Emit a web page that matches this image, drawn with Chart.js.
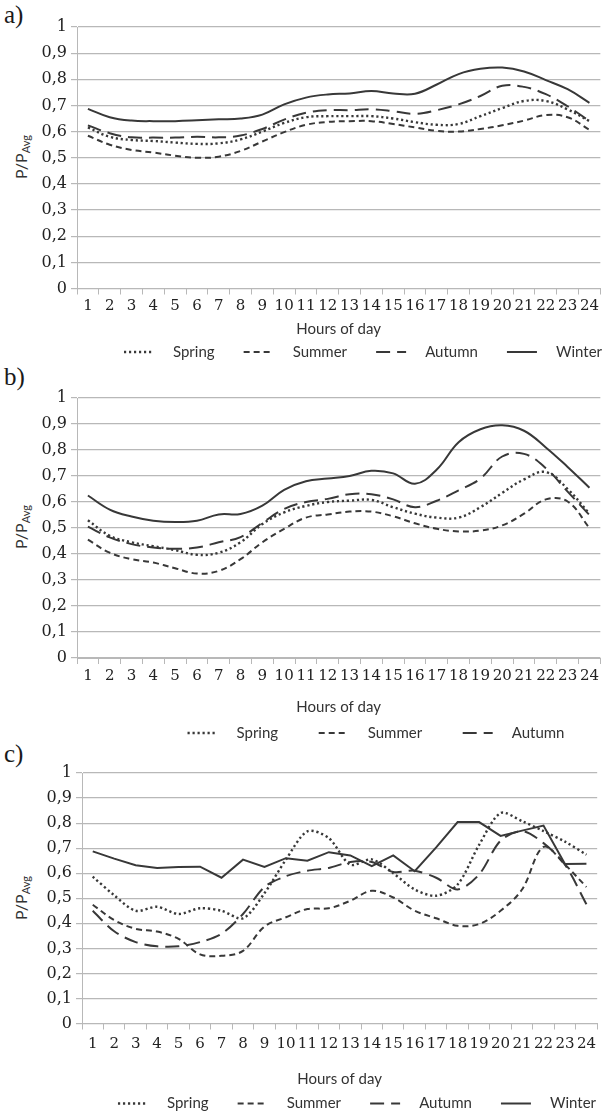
<!DOCTYPE html>
<html><head><meta charset="utf-8">
<script src="https://cdn.jsdelivr.net/npm/chart.js@4.4.0/dist/chart.umd.min.js"></script>
<style>
html,body{margin:0;padding:0;background:#fff;}
body{width:602px;height:1115px;position:relative;overflow:hidden;}
.panel{position:absolute;left:0;width:602px;}
.lbl{position:absolute;font-family:"Liberation Serif",serif;font-size:25px;color:#1a1a1a;line-height:1;}
.ytitle{position:absolute;width:100px;height:20px;line-height:20px;text-align:center;font-family:Lato,sans-serif;font-size:16px;color:#333;transform:rotate(-90deg);white-space:nowrap;}
.ytitle sub{font-size:11px;vertical-align:-3px;}
</style></head><body>
<div class="lbl" style="left:4px;top:2px">a)</div>
<div class="lbl" style="left:4px;top:364px">b)</div>
<div class="lbl" style="left:4px;top:741px">c)</div>
<div class="ytitle" style="left:-29px;top:147px">P/P<sub>Avg</sub></div>
<div class="ytitle" style="left:-29px;top:517px">P/P<sub>Avg</sub></div>
<div class="ytitle" style="left:-29px;top:888px">P/P<sub>Avg</sub></div>
<canvas id="ca" class="panel" style="top:0px" width="602" height="372"></canvas>
<canvas id="cb" class="panel" style="top:372px" width="602" height="380"></canvas>
<canvas id="cc" class="panel" style="top:752px" width="602" height="371"></canvas>
<script>
// ---- categories & tick labels ----
const hours = ['1','2','3','4','5','6','7','8','9','10','11','12','13','14','15','16','17','18','19','20','21','22','23','24'];
const yTickLabels = ['0','0,1','0,2','0,3','0,4','0,5','0,6','0,7','0,8','0,9','1'];
const seriesNames = ['Spring','Summer','Autumn','Winter'];
const xTitle = 'Hours of day';

// ---- panel a ----
const springA = [0.616,0.58,0.568,0.564,0.558,0.553,0.555,0.57,0.60,0.633,0.655,0.659,0.659,0.659,0.65,0.636,0.626,0.629,0.659,0.69,0.717,0.717,0.685,0.64];
const summerA = [0.584,0.55,0.53,0.52,0.508,0.50,0.504,0.526,0.562,0.598,0.626,0.637,0.64,0.64,0.629,0.616,0.603,0.60,0.61,0.624,0.642,0.663,0.655,0.607];
const autumnA = [0.624,0.594,0.578,0.577,0.577,0.58,0.578,0.585,0.61,0.646,0.672,0.682,0.682,0.685,0.678,0.668,0.682,0.704,0.736,0.775,0.771,0.743,0.697,0.64];
const winterA = [0.687,0.655,0.642,0.64,0.64,0.643,0.647,0.65,0.665,0.704,0.73,0.742,0.746,0.755,0.746,0.745,0.78,0.82,0.84,0.845,0.83,0.797,0.762,0.71];

// ---- panel b ----
const springB = [0.53,0.47,0.445,0.43,0.415,0.397,0.405,0.445,0.515,0.56,0.585,0.60,0.605,0.608,0.58,0.555,0.54,0.54,0.58,0.635,0.687,0.715,0.65,0.555];
const summerB = [0.455,0.405,0.38,0.367,0.345,0.325,0.335,0.38,0.445,0.497,0.54,0.552,0.563,0.563,0.545,0.518,0.497,0.487,0.49,0.51,0.555,0.61,0.602,0.50];
const autumnB = [0.505,0.464,0.438,0.425,0.42,0.425,0.445,0.465,0.52,0.573,0.60,0.612,0.63,0.63,0.61,0.58,0.605,0.645,0.69,0.775,0.785,0.73,0.64,0.55];
const winterB = [0.625,0.571,0.544,0.528,0.523,0.528,0.552,0.554,0.586,0.647,0.68,0.69,0.70,0.72,0.71,0.67,0.725,0.83,0.88,0.895,0.874,0.81,0.735,0.655];

// ---- panel c ----
const springC = [0.586,0.512,0.45,0.466,0.437,0.46,0.45,0.42,0.52,0.654,0.767,0.74,0.634,0.655,0.60,0.535,0.51,0.555,0.713,0.84,0.808,0.768,0.726,0.674];
const summerC = [0.474,0.413,0.378,0.367,0.338,0.276,0.27,0.29,0.387,0.424,0.457,0.46,0.49,0.53,0.503,0.45,0.42,0.39,0.397,0.45,0.535,0.705,0.634,0.545];
const autumnC = [0.45,0.368,0.325,0.308,0.308,0.325,0.358,0.437,0.545,0.588,0.61,0.621,0.645,0.645,0.605,0.61,0.582,0.535,0.595,0.73,0.768,0.72,0.634,0.476];
const winterC = [0.687,0.658,0.632,0.621,0.625,0.626,0.582,0.654,0.625,0.66,0.65,0.684,0.671,0.628,0.671,0.608,0.703,0.804,0.804,0.749,0.77,0.79,0.637,0.638];

const LINE = '#383838';
const GRID = '#b8b8b8';
const XTICKFONT = { family: 'DejaVu Serif', size: 15 };
const YTICKFONT = { family: 'DejaVu Serif', size: 16 };
const dashes = [[2.2,2.8],[6,4],[14,7],[]];
const widths = [2.4,2,2,2];

function makeDatasets(arrs, tensions){
  return arrs.map((d,i)=>({
    label: seriesNames[i],
    data: d,
    borderColor: LINE,
    backgroundColor: LINE,
    borderWidth: widths[i],
    borderDash: dashes[i],
    pointRadius: 0,
    pointHoverRadius: 0,
    fill: false,
    tension: tensions[i]
  }));
}

// centres the legend row on a given x (box made wide enough so nothing wraps)
const legendShift = {
  id: 'legendShift',
  afterLayout(chart, args, opts) {
    if (chart.legend && opts && opts.center) {
      chart.legend.left = opts.center - 320;
      chart.legend.right = opts.center + 320;
    }
  }
};

function makeChart(id, arrs, tensions, cfg){
  return new Chart(document.getElementById(id), {
    type: 'line',
    data: { labels: hours, datasets: makeDatasets(arrs, tensions) },
    plugins: [legendShift],
    options: {
      responsive: false,
      animation: false,
      events: [],
      layout: { padding: { top: cfg.top, right: 1, left: 0, bottom: cfg.bottom } },
      plugins: {
        tooltip: { enabled: false },
        legendShift: { center: cfg.legendCenter },
        legend: {
          position: 'bottom',
          align: 'center',
          maxWidth: 2000,
          labels: {
            usePointStyle: true,
            pointStyle: 'line',
            pointStyleWidth: 30,
            color: '#333',
            font: { family: 'Lato', size: 15 },
            padding: 6,
            boxHeight: 15,
            generateLabels: (chart) => {
              const n = cfg.legendCount;
              return chart.data.datasets.slice(0, n).map((ds, i) => ({
                text: '   ' + ds.label + (i < n - 1 ? cfg.gap : ''),
                datasetIndex: i,
                fillStyle: 'rgba(0,0,0,0)',
                strokeStyle: ds.borderColor,
                fontColor: '#333',
                lineWidth: ds.borderWidth,
                lineDash: ds.borderDash,
                lineCap: 'butt',
                pointStyle: 'line',
                hidden: false
              }));
            }
          }
        }
      },
      scales: {
        x: {
          type: 'category',
          offset: true,
          grid: { offset: true, drawOnChartArea: false, drawTicks: true, tickLength: 6, color: GRID },
          border: { color: GRID, width: 1 },
          ticks: { color: '#222', font: XTICKFONT, padding: cfg.tickPad, maxRotation: 0, autoSkip: false },
          title: { display: true, text: xTitle, color: '#333', font: { family: 'Lato', size: 15 }, padding: { top: cfg.titleTop, bottom: cfg.titleBottom } }
        },
        y: {
          min: 0, max: 1,
          afterFit: (s) => { s.width = cfg.left; },
          grid: { color: GRID, lineWidth: 1.2, tickLength: 6 },
          border: { color: GRID, width: 1 },
          ticks: {
            stepSize: 0.1,
            color: '#222',
            font: YTICKFONT,
            padding: 4,
            callback: (v, i) => yTickLabels[i]
          }
        }
      }
    }
  });
}

makeChart('ca', [springA, summerA, autumnA, winterA], [0.4,0.4,0.4,0.4],
  { left: 77, top: 27, bottom: 2.5, tickPad: 3, titleTop: 2, titleBottom: 0, legendCount: 4, legendCenter: 363, gap: '      ' });
makeChart('cb', [springB, summerB, autumnB, winterB], [0.4,0.4,0.4,0.4],
  { left: 77, top: 26, bottom: 1.5, tickPad: 3, titleTop: 10, titleBottom: 3.5, legendCount: 3, legendCenter: 376, gap: '         ' });
makeChart('cc', [springC, summerC, autumnC, winterC], [0.3,0.35,0.3,0],
  { left: 82, top: 21, bottom: 2, tickPad: 6, titleTop: 11, titleBottom: 1.5, legendCount: 4, legendCenter: 357, gap: '      ' });
</script>
</body></html>
